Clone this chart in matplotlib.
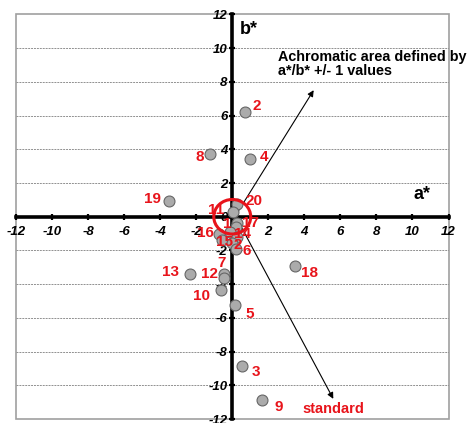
import matplotlib
matplotlib.use("Agg")
import matplotlib.pyplot as plt
from matplotlib.patches import Ellipse, Rectangle

plt.rcParams['font.family'] = ['Liberation Sans', 'DejaVu Sans']
plt.rcParams['axes.unicode_minus'] = False

# a*, b* values of the samples
a_vals = [0.68, -1.26, 1.00, -3.50, 0.28, 0.02, 0.26, 0.20, -0.11, -0.76,
          -0.57, 0.26, -0.02, 0.19, -0.44, -0.48, -2.33, -0.63, 0.15, 3.48,
          0.52, 1.63]
b_vals = [6.23, 3.73, 3.42, 0.92, 0.74, 0.30, -0.39, -0.63, -0.89, -1.05,
          -1.39, -1.19, -1.58, -1.94, -3.41, -3.63, -3.37, -4.32, -5.22, -2.90,
          -8.83, -10.85]
labels = ['2', '8', '4', '19', '20', '11', '17', '', '1', '16',
          '15', '14', '2', '6', '7', '12', '13', '10', '5', '18',
          '3', '9']
# label offsets in pixels (x right, y up)
offsets = [(12, 6), (-10, -3), (14, 2), (-17, 2), (17, 3), (-17, 2), (14, 0), (0, 0),
           (-3, 8), (-13, 1), (3, -2), (6, 3), (6, -2), (11, -2), (-3, 11), (-14, 4),
           (-20, 2), (-19, -6), (15, -9), (15, -7), (14, -6), (17, -7)]

ticks = list(range(-12, 13, 2))
grid_y = [-10, -8, -6, -4, -2, 2, 4, 6, 8, 10]

red = '#e8141b'

fig = plt.figure(figsize=(4.68, 4.23), dpi=100)
ax = fig.add_axes([16 / 468, 4 / 423, 432.5 / 468, 404.5 / 423])
ax.set_xlim(-12, 12)
ax.set_ylim(-12, 12)

# grey frame round the plot area
ax.add_patch(Rectangle((0, 0), 1, 1, transform=ax.transAxes, fill=False,
                       edgecolor='#a0a0a0', lw=1.2, clip_on=False, zorder=0))
for g in grid_y:
    ax.axhline(g, color='#909090', lw=0.7, ls=(0, (2, 1)), zorder=0.5)

for side in ['top', 'right']:
    ax.spines[side].set_visible(False)
for side in ['left', 'bottom']:
    ax.spines[side].set_position(('data', 0))
    ax.spines[side].set_linewidth(2.6)
    ax.spines[side].set_zorder(1)

ax.set_xticks(ticks)
ax.set_yticks(ticks)
ax.tick_params(axis='both', direction='inout', length=5, width=1.6, labelsize=9.5)
ax.tick_params(axis='x', pad=4)
ax.tick_params(axis='y', pad=1)
for t in ax.get_xticklabels() + ax.get_yticklabels():
    t.set_fontweight('bold')
    t.set_fontstyle('italic')

ax.scatter(a_vals, b_vals, s=62, c='#ababab', edgecolors='#666666',
           linewidths=0.8, zorder=3)

# achromatic area +/- 1
ax.add_patch(Ellipse((0, 0), 2.05, 2.05, fill=False, edgecolor=red, lw=2.2, zorder=4))

for a, b, lab, off in zip(a_vals, b_vals, labels, offsets):
    if lab:
        ax.annotate(lab, (a, b), xytext=off, textcoords='offset pixels',
                    ha='center', va='center', color=red, fontsize=11,
                    fontweight='bold', zorder=5)

arrow = dict(arrowstyle='-|>', color='black', lw=0.8, mutation_scale=9)
ax.annotate('', xy=(4.6, 7.65), xytext=(0.2, 0.1), arrowprops=arrow, zorder=2)
ax.annotate('', xy=(5.68, -10.95), xytext=(0.2, 0.0), arrowprops=arrow, zorder=2)

ax.text(2.55, 9.05, 'Achromatic area defined by\na*/b* +/- 1 values',
        fontsize=10.4, fontweight='bold', va='center', ha='left',
        linespacing=1.05)
ax.text(3.9, -11.4, 'standard', color=red, fontsize=10.5, fontweight='bold',
        va='center', ha='left')
ax.text(0.4, 11.1, 'b*', fontsize=13, fontweight='bold', va='center', ha='left')
ax.text(10.55, 1.33, 'a*', fontsize=13, fontweight='bold', va='center', ha='center')

fig.savefig('out.png', dpi=100)
